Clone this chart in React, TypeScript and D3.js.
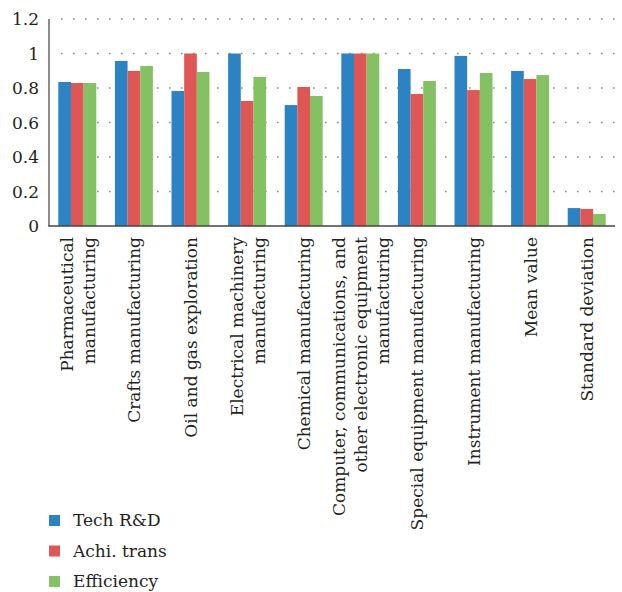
import React, { useEffect, useRef } from "react";
import * as d3 from "d3";

// Data
const categories = [
  ["Pharmaceutical", "manufacturing"],
  ["Crafts manufacturing"],
  ["Oil and gas exploration"],
  ["Electrical machinery", "manufacturing"],
  ["Chemical manufacturing"],
  ["Computer, communications, and", "other electronic equipment", "manufacturing"],
  ["Special equipment manufacturing"],
  ["Instrument manufacturing"],
  ["Mean value"],
  ["Standard deviation"],
];
const seriesNames = ["Tech R&D", "Achi. trans", "Efficiency"];
const techRD = [0.835, 0.957, 0.783, 1.0, 0.701, 1.0, 0.91, 0.986, 0.899, 0.104];
const achiTrans = [0.829, 0.899, 1.0, 0.725, 0.806, 1.0, 0.765, 0.788, 0.852, 0.099];
const efficiency = [0.829, 0.928, 0.893, 0.864, 0.754, 1.0, 0.841, 0.887, 0.875, 0.07];
const yTicks = [0, 0.2, 0.4, 0.6, 0.8, 1, 1.2];
const colors = ["#2b83c3", "#df5754", "#84c162"];

const W = 622;
const H = 592;

const App = () => {
  const svgRef = useRef<SVGSVGElement>(null);

  useEffect(() => {
    const svg = d3.select(svgRef.current);
    svg.selectAll("*").remove();

    const margin = { top: 19, left: 49, right: 7, bottom: 366 };
    const font = "'DejaVu Serif', serif";
    const fs = "17px";
    const values = [techRD, achiTrans, efficiency];

    const x = d3
      .scaleBand()
      .domain(d3.range(categories.length).map(String))
      .range([margin.left, W - margin.right])
      .paddingInner(0.329)
      .paddingOuter(0.1645);

    const xs = d3
      .scaleBand()
      .domain(seriesNames)
      .range([0, x.bandwidth()]);

    const y = d3
      .scaleLinear()
      .domain([0, 1.2])
      .range([H - margin.bottom, margin.top]);

    // dotted gridlines
    svg
      .append("g")
      .selectAll("line")
      .data(yTicks.filter((t) => t > 0))
      .join("line")
      .attr("x1", margin.left + 12)
      .attr("x2", W - margin.right)
      .attr("y1", (d) => y(d))
      .attr("y2", (d) => y(d))
      .attr("stroke", "#8a8a8a")
      .attr("stroke-width", 1.6)
      .attr("stroke-dasharray", "1.6 10.4");

    // y tick labels
    svg
      .append("g")
      .selectAll("text")
      .data(yTicks)
      .join("text")
      .attr("x", 39)
      .attr("y", (d) => y(d))
      .attr("dy", "0.36em")
      .attr("text-anchor", "end")
      .style("font-family", font)
      .style("font-size", fs)
      .style("fill", "#231f20")
      .text((d) => String(d));

    // bars
    const groups = svg
      .append("g")
      .selectAll("g")
      .data(categories)
      .join("g")
      .attr("transform", (_, i) => `translate(${x(String(i))},0)`);

    groups
      .selectAll("rect")
      .data((_, i) => values.map((v, s) => ({ s, v: v[i] })))
      .join("rect")
      .attr("x", (d) => xs(seriesNames[d.s]) as number)
      .attr("y", (d) => y(d.v))
      .attr("width", xs.bandwidth())
      .attr("height", (d) => y(0) - y(d.v))
      .attr("fill", (d) => colors[d.s]);

    // axes lines
    svg
      .append("line")
      .attr("x1", margin.left)
      .attr("x2", margin.left)
      .attr("y1", y(1.2))
      .attr("y2", y(0))
      .attr("stroke", "#666")
      .attr("stroke-width", 1.5);
    svg
      .append("line")
      .attr("x1", margin.left - 0.75)
      .attr("x2", W - margin.right)
      .attr("y1", y(0))
      .attr("y2", y(0))
      .attr("stroke", "#444")
      .attr("stroke-width", 1.5);

    // rotated category labels
    const lineH = 22;
    categories.forEach((lines, i) => {
      const cx = (x(String(i)) as number) + x.bandwidth() / 2;
      const mid = (lines.length - 1) / 2;
      lines.forEach((ln, j) => {
        const bx = cx + 6.5 + (j - mid) * lineH;
        svg
          .append("text")
          .attr("transform", `translate(${bx},237) rotate(-90)`)
          .attr("text-anchor", "end")
          .style("font-family", font)
          .style("font-size", fs)
          .style("fill", "#231f20")
          .text(ln);
      });
    });

    // legend
    const legend = svg
      .append("g")
      .selectAll("g")
      .data(seriesNames)
      .join("g")
      .attr("transform", (_, i) => `translate(49,${515 + i * 30.5})`);
    legend
      .append("rect")
      .attr("width", 11)
      .attr("height", 11)
      .attr("fill", (_, i) => colors[i]);
    legend
      .append("text")
      .attr("x", 24)
      .attr("y", 11)
      .style("font-family", font)
      .style("font-size", fs)
      .style("fill", "#231f20")
      .text((d) => d);
  }, []);

  return (
    <svg
      ref={svgRef}
      width={W}
      height={H}
      style={{ position: "absolute", left: 0, top: 0, background: "#fff" }}
    />
  );
};

export default App;
